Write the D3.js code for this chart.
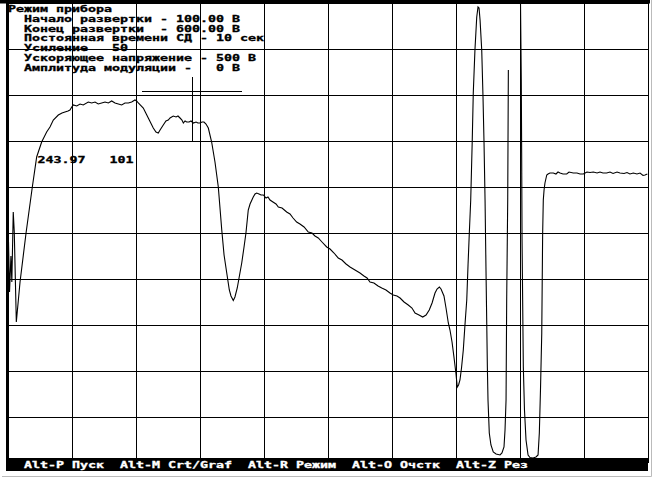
<!DOCTYPE html>
<html><head><meta charset="utf-8">
<script src="https://cdn.jsdelivr.net/npm/d3@7"></script>
<style>html,body{margin:0;padding:0;background:#fff;overflow:hidden}svg{display:block}text{white-space:pre}</style>
</head><body>
<script>
const voltage = [
100.4,101.2,102.3,103.0,104.1,104.9,106.5,109.4,114.1,119.0,122.4,126.3,130.2,132.8,135.4,139.3,142.2,144.5,146.9,148.4,
149.8,151.0,153.7,156.3,158.8,162.7,165.4,168.0,170.5,173.2,175.8,178.4,181.0,183.6,186.2,188.8,191.4,194.0,196.6,199.2,200.5,201.8,
205.7,209.6,213.5,215.6,217.4,218.8,221.3,223.4,225.2,226.6,229.1,231.3,232.8,234.4,235.9,237.0,238.3,239.6,241.4,243.0,
244.8,246.9,248.4,250.0,251.6,253.1,254.7,256.5,259.1,261.7,264.3,267.0,268.8,270.9,272.9,274.2,276.0,277.3,279.1,280.5,
282.6,284.4,285.9,287.7,289.1,291.6,293.0,294.3,296.1,297.7,299.5,301.6,303.1,304.7,307.0,309.4,311.2,314.1,317.7,320.3,
322.7,325.5,328.1,331.3,334.6,337.5,339.8,342.4,345.3,349.0,351.6,354.7,358.0,360.9,364.1,367.2,371.1,375.0,378.1,380.5,
382.8,385.9,389.1,392.0,395.3,398.4,401.0,403.9,406.3,409.4,412.7,415.6,418.0,421.1,424.0,426.6,429.1,431.3,433.6,435.2,
437.0,438.3,440.6,442.2,444.0,445.3,446.9,448.4,450.0,451.0,452.0,453.1,454.3,455.7,457.0,458.4,459.4,460.4,461.5,462.1,
462.7,463.5,464.8,466.2,467.2,468.0,468.8,470.1,471.1,471.9,472.7,473.4,474.5,475.0,476.0,477.3,479.1,481.3,484.4,485.9,
487.5,488.3,489.1,489.6,490.4,490.9,495.0,500.4,501.0,501.3,501.6,502.6,503.5,504.7,506.3,507.8,510.2,512.5,514.1,515.1,
516.0,517.0,517.7,518.2,518.8,519.5,520.9,521.9,523.4,526.0,528.1,529.7,531.3,533.6,536.5,538.3,541.6,544.5,546.9,549.5,
552.3,554.7,557.3,560.2,562.5,564.8,567.7,570.3,572.7,575.8,578.1,581.3,583.6,585.9,588.5,591.4,593.8,596.1,597.7,599.5
];
const signal = [
221,171,207,181,251,231,141,181,230,276,306,321,331,336,343,348,350,351,352,353,
356,358,357,359,358,361,360,361,359,360,361,360,362,360,359,358,360,360,361,363,362,360,
355,345,335,331,330,333,338,342,343,345,347,346,347,345,343,340,342,341,341,342,
340,341,340,340,341,341,339,335,321,301,276,233,208,190,173,167,162.5,166,175,185,
200,216,230,253,259,266,269,270,269,268,268,265,266,263,261,259,256,255,251,249,
245,241,239,236,231,230,227,225,221,216,214,210,205,203,199,196,193,190,187,185,
181,180,177,175,173,170,168,167,165,161,158,155,150,148,146,148,153,160,170,174,
176,174,167,155,140,133,121,106,89,76,78,83,95,113,138,163,198,230,263,293,
323,370,413,446,456,455,443,413,366,320,263,196,96,63,30,18,11,9,8,10,
16,33,63,163,263,393,null,460,383,310,223,96,53,23,8,5.5,5,6,8,30,
73,130,230,263,273,280,288,289,290,290,289,291,290,289,289,291,290,290,289,289,
291,290.5,291,290,291,290,290,291,289.5,291,290,289.5,290.5,289,290,289,290,287.5,288,289
];
const gridVoltages = [100,150,200,250,300,350,400,450,500,550,600];
const gridCounts = [0,46,92,138,184,230,276,322,368,414,460];
const headerLines = [
  "Режим прибора",
  "  Начало развертки - 100.00 В",
  "  Конец развертки  - 600.00 В",
  "  Постоянная времени СД - 10 сек",
  "  Усиление   50",
  "  Ускоряющее напряжение - 500 В",
  "  Амплитуда модуляции -   0 В"
];
const menuLine = "  Alt-P Пуск  Alt-M Crt/Graf  Alt-R Режим  Alt-O Очстк  Alt-Z Рез";
const cursorVoltage = 243.97;
const cursorCount = 101;
const cursorLevel = 372;
const cursorSpan = [322, 386];
const cursorHalfWidth = 39;

const W = 657, H = 479;
const X0 = 8, X1 = 648, Y0 = 3, Y1 = 463;
const CH = 8; // character cell width
const FONT = "'DejaVu Sans Mono', 'Liberation Mono', monospace";

const svg = d3.select("body").append("svg").attr("width", W).attr("height", H);
svg.append("rect").attr("width", W).attr("height", H).attr("fill", "#fff");

const x = d3.scaleLinear().domain([100, 600]).range([X0, X1]);
const y = d3.scaleLinear().domain([0, 460]).range([Y1, Y0]);

// grid via axes
const gx = svg.append("g").attr("transform", `translate(0,${Y1})`)
  .call(d3.axisBottom(x).tickValues(gridVoltages).tickSize(-(Y1 - Y0)).tickFormat(""));
const gy = svg.append("g").attr("transform", `translate(${X0},0)`)
  .call(d3.axisLeft(y).tickValues(gridCounts).tickSize(-(X1 - X0)).tickFormat(""));
[gx, gy].forEach(g => {
  g.select(".domain").remove();
  g.selectAll("line").attr("stroke", "#000").attr("stroke-width", 1).attr("shape-rendering", "crispEdges");
});

// text helper (8-px character cells like the DOS screen font)
function addText(str, tx, ty, fill, size) {
  const f = fill || "#000";
  return svg.append("text")
    .attr("x", tx).attr("y", ty)
    .attr("font-family", FONT).attr("font-weight", "bold")
    .attr("font-size", size || 8.8).attr("fill", f)
    .attr("stroke", f).attr("stroke-width", 0.3)
    .attr("textLength", str.length * CH).attr("lengthAdjust", "spacingAndGlyphs")
    .text(str);
}
headerLines.forEach((s, i) => addText(s, X0, 12 + i * 9.8));

// signal curve
const pts = voltage.map((v, i) => [v, signal[i]]);
svg.append("path")
  .datum(pts)
  .attr("fill", "none").attr("stroke", "#000").attr("stroke-width", 1.1)
  .attr("d", d3.line().defined(d => d[1] != null).x(d => x(d[0])).y(d => y(d[1]))(pts));

// cursor cross
svg.append("line")
  .attr("x1", x(cursorVoltage - cursorHalfWidth)).attr("x2", x(cursorVoltage + cursorHalfWidth))
  .attr("y1", y(cursorLevel)).attr("y2", y(cursorLevel))
  .attr("stroke", "#000").attr("stroke-width", 1).attr("shape-rendering", "crispEdges");
svg.append("line")
  .attr("x1", x(cursorVoltage)).attr("x2", x(cursorVoltage))
  .attr("y1", y(cursorSpan[1])).attr("y2", y(cursorSpan[0]))
  .attr("stroke", "#000").attr("stroke-width", 1).attr("shape-rendering", "crispEdges");
const cursorLabel = cursorVoltage.toFixed(2) + "   " + cursorCount;
addText(cursorLabel, 37.5, 163);

// frame
svg.append("rect").attr("x", 0).attr("y", 0).attr("width", X1 + 2).attr("height", 3.5).attr("fill", "#000");
svg.append("rect").attr("x", 6).attr("y", 0).attr("width", 2.5).attr("height", 471).attr("fill", "#000");
svg.append("line").attr("x1", X1 + 0.5).attr("x2", X1 + 0.5).attr("y1", 0).attr("y2", 458)
  .attr("stroke", "#000").attr("stroke-width", 1);
svg.append("line").attr("x1", 651.5).attr("x2", 651.5).attr("y1", 0).attr("y2", 476.5)
  .attr("stroke", "#bbb").attr("stroke-width", 1);
svg.append("line").attr("x1", 2).attr("x2", 651.5).attr("y1", 476.5).attr("y2", 476.5)
  .attr("stroke", "#bbb").attr("stroke-width", 1);

// menu bar
svg.append("rect").attr("x", 6).attr("y", 458).attr("width", X1 - 6).attr("height", 13).attr("fill", "#000");
addText(menuLine, X0, 468, "#fff");
</script>
</body></html>
